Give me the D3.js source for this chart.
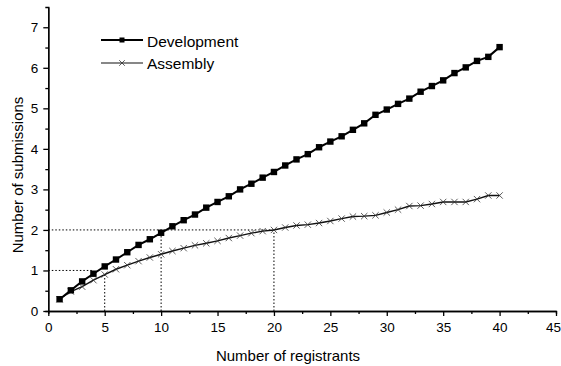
<!DOCTYPE html>
<html>
<head>
<meta charset="utf-8">
<script src="https://cdn.jsdelivr.net/npm/d3@7"></script>
<style>
  body { margin: 0; background: #fff; }
  svg { display: block; font-family: "Liberation Sans", Arial, sans-serif; }
</style>
</head>
<body>
<div class="chart"></div>
<script>
var registrants = d3.range(1, 41);

var development = [0.29, 0.51, 0.73, 0.92, 1.10, 1.27, 1.45, 1.63, 1.77, 1.93,
  2.09, 2.24, 2.38, 2.55, 2.69, 2.83, 3.00, 3.14, 3.29, 3.43,
  3.59, 3.74, 3.87, 4.04, 4.18, 4.31, 4.47, 4.63, 4.84, 4.97,
  5.11, 5.24, 5.41, 5.55, 5.69, 5.87, 6.01, 6.17, 6.27, 6.51];

var assembly = [0.29, 0.48, 0.60, 0.76, 0.90, 1.03, 1.13, 1.23, 1.32, 1.40,
  1.48, 1.55, 1.62, 1.67, 1.73, 1.80, 1.86, 1.92, 1.97, 2.00,
  2.06, 2.11, 2.13, 2.17, 2.22, 2.28, 2.33, 2.34, 2.36, 2.43,
  2.50, 2.59, 2.60, 2.64, 2.69, 2.69, 2.69, 2.76, 2.85, 2.85];

var xTicks = [0, 5, 10, 15, 20, 25, 30, 35, 40, 45];
var yTicks = [0, 1, 2, 3, 4, 5, 6, 7];

// dotted guide lines: [x1, y1, x2, y2] in data units
var guides = [
  [0, 1, 4, 1],
  [5, 0, 5, 0.9],
  [0, 2, 20, 2],
  [10, 0, 10, 2],
  [20, 0, 20, 2]
];

var width = 561, height = 366;

var svg = d3.select('.chart').append('svg')
  .attr('width', width)
  .attr('height', height);

var x = d3.scaleLinear().domain([0, 45]).range([48.3, 556]);
var y = d3.scaleLinear().domain([0, 7.5]).range([311, 7]);

// minor ticks
var xAxisMinor = d3.axisBottom(x).tickValues(d3.range(2.5, 45, 5)).tickSize(3).tickFormat('');
var yAxisMinor = d3.axisLeft(y).tickValues(d3.range(0.5, 7.5, 1)).tickSize(3).tickFormat('');

svg.append('g').attr('transform', 'translate(0,' + y(0) + ')').call(xAxisMinor);
svg.append('g').attr('transform', 'translate(' + x(0) + ',0)').call(yAxisMinor);

var xAxis = d3.axisBottom(x).tickValues(xTicks).tickSize(5).tickPadding(6).tickSizeOuter(0);
var yAxis = d3.axisLeft(y).tickValues(yTicks).tickSize(5).tickPadding(5).tickSizeOuter(0);

svg.append('g').attr('class', 'x axis')
  .attr('transform', 'translate(0,' + y(0) + ')')
  .call(xAxis);
svg.append('g').attr('class', 'y axis')
  .attr('transform', 'translate(' + x(0) + ',0)')
  .call(yAxis);

svg.selectAll('.domain, .tick line')
  .attr('stroke', '#000')
  .attr('stroke-width', 1.3);
svg.selectAll('.tick text')
  .attr('fill', '#000')
  .style('font-size', '13.5px')
  .style('font-family', '"Liberation Sans", Arial, sans-serif');

// last label sits on the window edge, nudge it in
svg.selectAll('.x.axis .tick text')
  .filter(function(d) { return d === 45; })
  .attr('dx', -3);

// guides
svg.selectAll('.guide').data(guides).enter().append('line')
  .attr('class', 'guide')
  .attr('x1', function(d) { return x(d[0]); })
  .attr('y1', function(d) { return y(d[1]); })
  .attr('x2', function(d) { return x(d[2]); })
  .attr('y2', function(d) { return y(d[3]); })
  .attr('stroke', '#000')
  .attr('stroke-width', 1)
  .attr('stroke-dasharray', '1.5,2');

var line = d3.line()
  .x(function(d) { return x(d[0]); })
  .y(function(d) { return y(d[1]); });

var devData = registrants.map(function(r, i) { return [r, development[i]]; });
var asmData = registrants.map(function(r, i) { return [r, assembly[i]]; });

// assembly
svg.append('path').datum(asmData)
  .attr('d', line)
  .attr('fill', 'none')
  .attr('stroke', '#111')
  .attr('stroke-width', 1.4);

var cross = d3.symbol().type(d3.symbolX).size(28);
svg.selectAll('.asm').data(asmData).enter().append('path')
  .attr('class', 'asm')
  .attr('transform', function(d) { return 'translate(' + x(d[0]) + ',' + y(d[1]) + ')'; })
  .attr('d', cross)
  .attr('fill', 'none')
  .attr('stroke', '#333')
  .attr('stroke-width', 0.8);

// development
svg.append('path').datum(devData)
  .attr('d', line)
  .attr('fill', 'none')
  .attr('stroke', '#000')
  .attr('stroke-width', 2);

svg.selectAll('.dev').data(devData).enter().append('rect')
  .attr('class', 'dev')
  .attr('x', function(d) { return x(d[0]) - 3.2; })
  .attr('y', function(d) { return y(d[1]) - 3.2; })
  .attr('width', 6.4)
  .attr('height', 6.4)
  .attr('fill', '#000');

// legend
var legend = svg.append('g');
legend.append('line')
  .attr('x1', 101).attr('x2', 143).attr('y1', 40).attr('y2', 40)
  .attr('stroke', '#000').attr('stroke-width', 2);
legend.append('rect')
  .attr('x', 119.5).attr('y', 37.5).attr('width', 5).attr('height', 5)
  .attr('fill', '#000');
legend.append('text')
  .attr('x', 147).attr('y', 46.5)
  .style('font-size', '15.5px')
  .text('Development');

legend.append('line')
  .attr('x1', 101).attr('x2', 143).attr('y1', 63).attr('y2', 63)
  .attr('stroke', '#111').attr('stroke-width', 1.2);
legend.append('path')
  .attr('transform', 'translate(122,63)')
  .attr('d', d3.symbol().type(d3.symbolX).size(22))
  .attr('fill', 'none').attr('stroke', '#333').attr('stroke-width', 0.8);
legend.append('text')
  .attr('x', 147).attr('y', 68.5)
  .style('font-size', '15.5px')
  .text('Assembly');

// axis titles
svg.append('text')
  .attr('x', 288).attr('y', 361)
  .attr('text-anchor', 'middle')
  .style('font-size', '15px')
  .text('Number of registrants');

svg.append('text')
  .attr('transform', 'translate(23,175) rotate(-90)')
  .attr('text-anchor', 'middle')
  .style('font-size', '15px')
  .text('Number of submissions');
</script>
</body>
</html>
